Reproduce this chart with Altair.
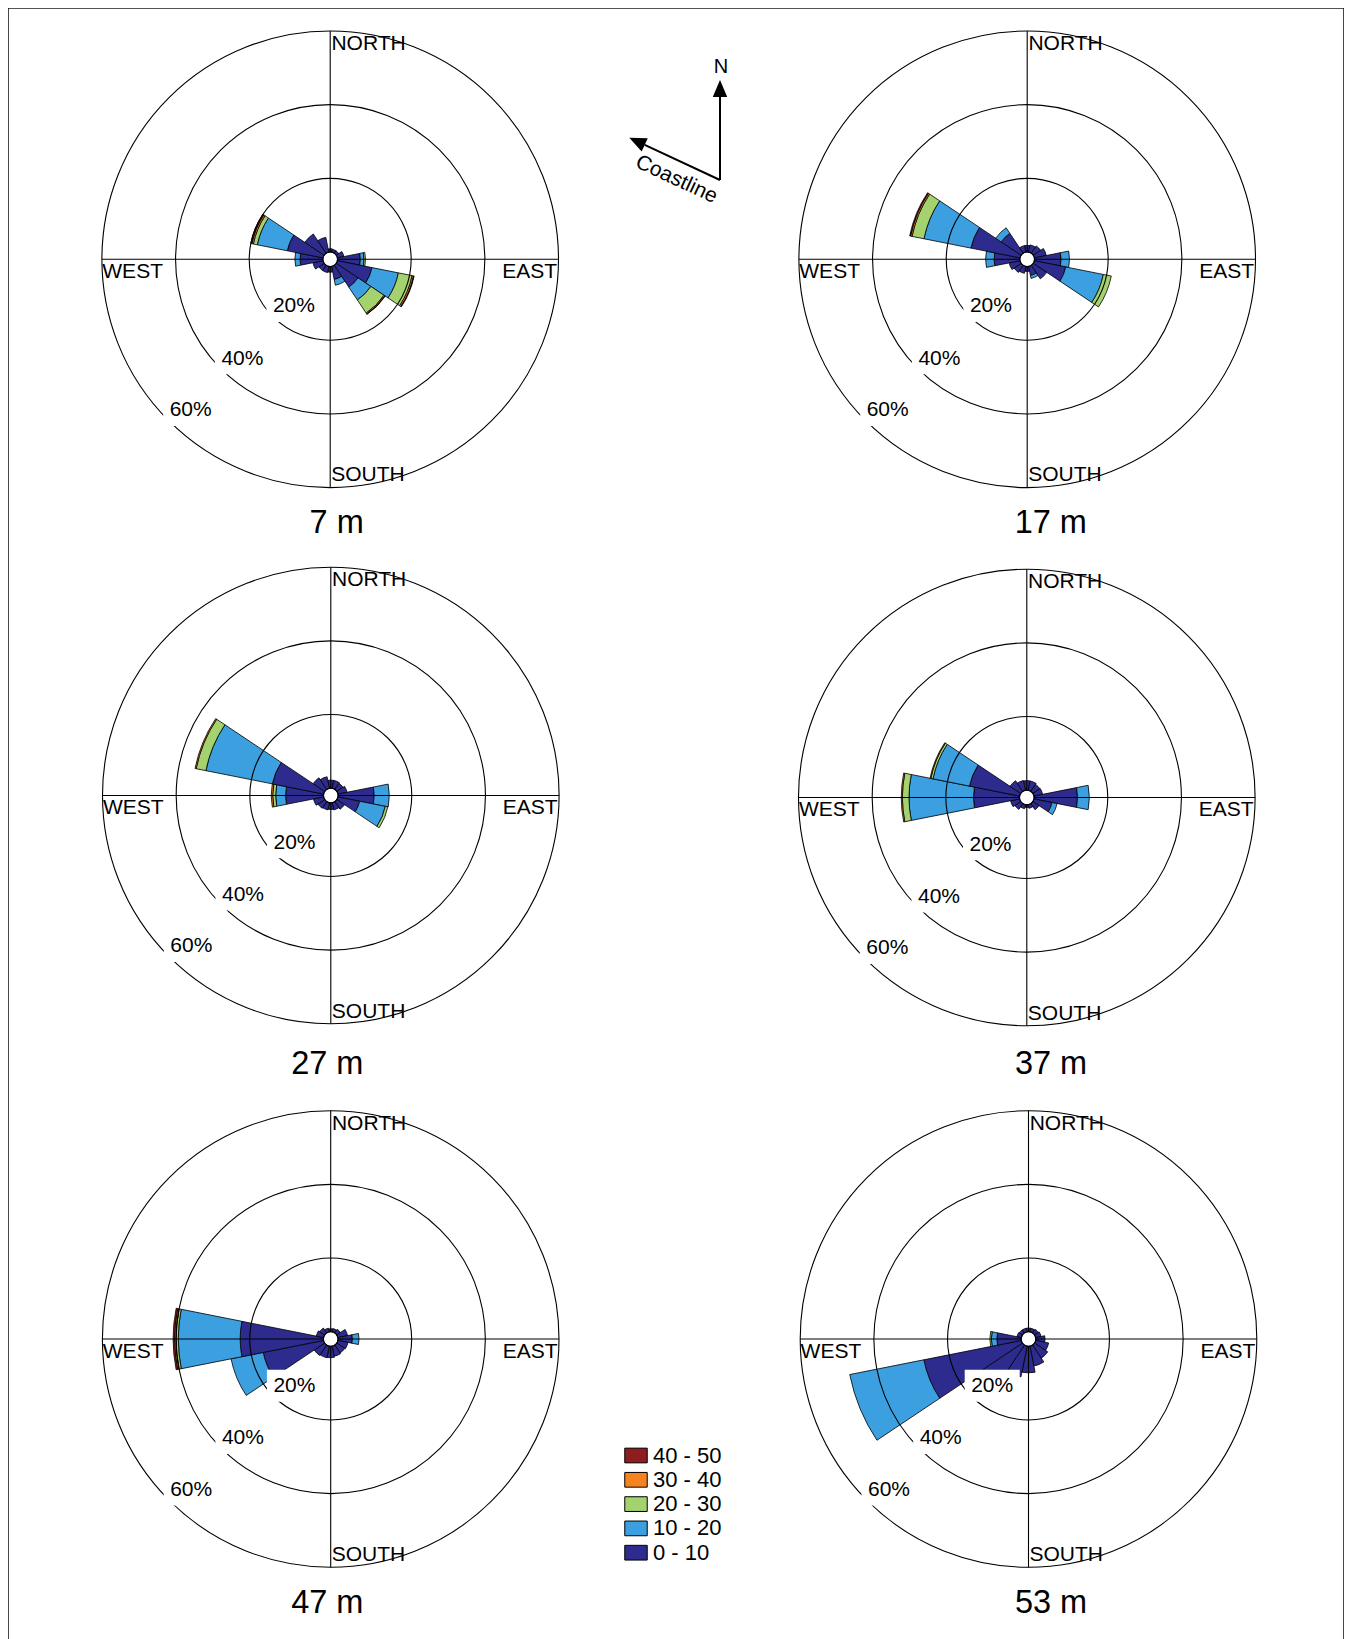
import math
import altair as alt
import pandas as pd

# ---------------------------------------------------------------- data
DIRECTIONS = [0.0, 22.5, 45.0, 67.5, 90.0, 112.5, 135.0, 157.5,
              180.0, 202.5, 225.0, 247.5, 270.0, 292.5, 315.0, 337.5]
SPEED_CLASSES = ["0 - 10", "10 - 20", "20 - 30", "30 - 40", "40 - 50"]
DEPTHS = ["7 m", "17 m", "27 m", "37 m", "47 m", "53 m"]
RING_VALUES = [0, 20, 40, 60]
RING_LABELS = ["20%", "40%", "60%"]
SPOKE_ANGLES = [0, 90, 180, 270]

# percent of time, per direction bin (N, NNE, ... NNW), per speed class
D7_S0 = [0.9, 0.8, 0.8, 1.8, 6.2, 9.6, 7.1, 3.6, 1.5, 1.7, 1.7, 2.8, 6.2, 9.9, 6.3, 4.1]
D7_S1 = [0, 0, 0, 0, 1.0, 7.3, 4.2, 1.6, 0, 0, 0, 0, 1.4, 8.3, 0, 0]
D7_S2 = [0, 0, 0, 0, 0.4, 3.8, 4.3, 0, 0, 0, 0, 0, 0, 1.1, 0, 0]
D7_S3 = [0, 0, 0, 0, 0, 0.4, 0.3, 0, 0, 0, 0, 0, 0, 0.4, 0, 0]
D7_S4 = [0, 0, 0, 0, 0, 0.15, 0.1, 0, 0, 0, 0, 0, 0, 0.3, 0, 0]

D17_S0 = [1.8, 2.0, 2.4, 3.3, 7.2, 8.7, 4.4, 2.5, 1.3, 1.9, 2.3, 3.0, 7.0, 13.6, 6.5, 1.8]
D17_S1 = [0, 0, 0, 0, 2.3, 10.4, 0, 0.8, 0, 0, 0, 0, 2.3, 13.0, 1.8, 0]
D17_S2 = [0, 0, 0, 0, 0, 2.2, 0, 0, 0, 0, 0, 0, 0, 3.3, 0, 0]
D17_S3 = [0, 0, 0, 0, 0, 0, 0, 0, 0, 0, 0, 0, 0, 0.4, 0, 0]
D17_S4 = [0, 0, 0, 0, 0, 0, 0, 0, 0, 0, 0, 0, 0, 0.25, 0, 0]

D27_S0 = [2.2, 2.2, 2.0, 2.5, 9.8, 6.0, 2.5, 2.0, 1.8, 2.0, 2.2, 2.8, 10.3, 14.2, 3.8, 3.2]
D27_S1 = [0, 0, 0, 0, 4.1, 7.1, 0, 0, 0, 0, 0, 0, 2.7, 18.4, 0, 0]
D27_S2 = [0, 0, 0, 0, 0, 0.7, 0, 0, 0, 0, 0, 0, 0.8, 2.7, 0, 0]
D27_S3 = [0, 0, 0, 0, 0, 0, 0, 0, 0, 0, 0, 0, 0.4, 0.3, 0, 0]
D27_S4 = [0, 0, 0, 0, 0, 0, 0, 0, 0, 0, 0, 0, 0, 0, 0, 0]

D37_S0 = [2.6, 2.6, 2.3, 2.4, 11.8, 5.0, 2.0, 1.0, 0.7, 1.1, 1.9, 2.5, 12.5, 13.9, 3.5, 2.7]
D37_S1 = [0, 0, 0, 0, 3.2, 1.4, 0, 0, 0, 0, 0, 0, 17.5, 10.1, 0, 0]
D37_S2 = [0, 0, 0, 0, 0, 0, 0, 0, 0, 0, 0, 0, 1.8, 0.6, 0, 0]
D37_S3 = [0, 0, 0, 0, 0, 0, 0, 0, 0, 0, 0, 0, 0.3, 0.2, 0, 0]
D37_S4 = [0, 0, 0, 0, 0, 0, 0, 0, 0, 0, 0, 0, 0, 0, 0, 0]

D47_S0 = [0.8, 0.9, 1.2, 2.7, 3.9, 2.8, 2.6, 2.8, 3.1, 3.2, 3.4, 16.7, 22.6, 2.0, 1.6, 1.0]
D47_S1 = [0, 0, 0, 0, 1.8, 0, 0, 0, 0, 0, 0, 8.9, 16.8, 0, 0, 0]
D47_S2 = [0, 0, 0, 0, 0, 0, 0, 0, 0, 0, 0, 0, 0.6, 0, 0, 0]
D47_S3 = [0, 0, 0, 0, 0, 0, 0, 0, 0, 0, 0, 0, 0.4, 0, 0, 0]
D47_S4 = [0, 0, 0, 0, 0, 0, 0, 0, 0, 0, 0, 0, 0.4, 0, 0, 0]

D53_S0 = [1.0, 1.0, 1.2, 1.5, 2.5, 3.6, 4.3, 5.5, 7.2, 8.5, 14.0, 27.0, 6.6, 1.2, 1.0, 1.0]
D53_S1 = [0, 0, 0, 0, 0, 0, 0, 0, 0, 0, 0, 20.5, 1.5, 0, 0, 0]
D53_S2 = [0, 0, 0, 0, 0, 0, 0, 0, 0, 0, 0, 0, 0.4, 0, 0, 0]
D53_S3 = [0, 0, 0, 0, 0, 0, 0, 0, 0, 0, 0, 0, 0, 0, 0, 0]
D53_S4 = [0, 0, 0, 0, 0, 0, 0, 0, 0, 0, 0, 0, 0, 0, 0, 0]

DEPTH_TABLES = [
    [D7_S0, D7_S1, D7_S2, D7_S3, D7_S4],
    [D17_S0, D17_S1, D17_S2, D17_S3, D17_S4],
    [D27_S0, D27_S1, D27_S2, D27_S3, D27_S4],
    [D37_S0, D37_S1, D37_S2, D37_S3, D37_S4],
    [D47_S0, D47_S1, D47_S2, D47_S3, D47_S4],
    [D53_S0, D53_S1, D53_S2, D53_S3, D53_S4],
]

LEGEND_ORDER = ["40 - 50", "30 - 40", "20 - 30", "10 - 20", "0 - 10"]
LEGEND_COLORS = ["#8e1d22", "#f58420", "#a3d26e", "#3c9fdf", "#2d2b8e"]

# ---------------------------------------------------------------- layout (page px)
MARGIN = 8
VIEW_W, VIEW_H = 1336, 1648
R_HOLE, R_OUT = 7.3, 228.3
BIN_HALF = 11.25

PANEL_CX = [330.2, 1027.2, 330.8, 1026.8, 330.7, 1028.5]
PANEL_CY = [259.3, 259.3, 795.5, 797.5, 1339.0, 1339.0]
TITLE_X = [336.7, 1050.8, 327.3, 1051.0, 327.3, 1051.0]
TITLE_Y = [522.7, 522.7, 1064.2, 1064.2, 1602.5, 1602.5]

RING_LABEL_DX = [-36.3, -87.8, -139.5]
RING_LABEL_DY = [46.8, 98.9, 150.6]
RING_TEXT_SHIFT = 0.3
BOX_HALF_W, BOX_HALF_H = 27.5, 16.0

COMPASS_LEFT = [("NORTH", 1.2, -215.5), ("SOUTH", 1.0, 216.0), ("WEST", -227.9, 12.5)]
COMPASS_RIGHT = [("EAST", 226.9, 12.5)]

FONT = "Liberation Sans"
LABEL_SIZE = 21
TITLE_SIZE = 32.5

# ---------------------------------------------------------------- tables
def vx(v):
    return v - MARGIN


petal_rows = []
for di, depth in enumerate(DEPTHS):
    tables = DEPTH_TABLES[di]
    for k, ang in enumerate(DIRECTIONS):
        cum = 0.0
        for ci, cls in enumerate(SPEED_CLASSES):
            v = tables[ci][k]
            if v <= 0:
                continue
            petal_rows.append(dict(depth=depth, cx=vx(PANEL_CX[di]), cy=vx(PANEL_CY[di]),
                                   t0=ang - BIN_HALF, t1=ang + BIN_HALF,
                                   r0=cum, r1=cum + v, speed=cls))
            cum += v
petal_df = pd.DataFrame(petal_rows)

grid_rows = []
for di in range(len(DEPTHS)):
    for rv in RING_VALUES:
        grid_rows.append(dict(cx=vx(PANEL_CX[di]), cy=vx(PANEL_CY[di]), t0=0, t1=360, r0=rv, r1=rv))
    for a in SPOKE_ANGLES:
        grid_rows.append(dict(cx=vx(PANEL_CX[di]), cy=vx(PANEL_CY[di]), t0=a, t1=a, r0=0, r1=60))
grid_df = pd.DataFrame(grid_rows)

label_rows, box_rows = [], []
for di in range(len(DEPTHS)):
    cx, cy = vx(PANEL_CX[di]), vx(PANEL_CY[di])
    for j, lab in enumerate(RING_LABELS):
        lx, ly = cx + RING_LABEL_DX[j], cy + RING_LABEL_DY[j]
        label_rows.append(dict(x=lx, y=ly + RING_TEXT_SHIFT, text=lab))
        box_rows.append(dict(x=lx - BOX_HALF_W, x2=lx + BOX_HALF_W, y=ly - BOX_HALF_H, y2=ly + BOX_HALF_H))
label_df = pd.DataFrame(label_rows)
box_df = pd.DataFrame(box_rows)

cl_rows, cr_rows = [], []
for di in range(len(DEPTHS)):
    cx, cy = vx(PANEL_CX[di]), vx(PANEL_CY[di])
    for t, dx, dy in COMPASS_LEFT:
        cl_rows.append(dict(x=cx + dx, y=cy + dy, text=t))
    for t, dx, dy in COMPASS_RIGHT:
        cr_rows.append(dict(x=cx + dx, y=cy + dy, text=t))
cl_df = pd.DataFrame(cl_rows)
cr_df = pd.DataFrame(cr_rows)

title_df = pd.DataFrame(dict(x=[vx(v) for v in TITLE_X], y=[vx(v) for v in TITLE_Y], text=DEPTHS))

shaft_df = pd.DataFrame(dict(x=[vx(720), vx(720)], y=[vx(180), vx(180)],
                             x2=[vx(720), vx(644.7)], y2=[vx(97), vx(144.9)]))
head_n_df = pd.DataFrame(dict(x=[vx(720)], y=[vx(88.5)]))
head_c_df = pd.DataFrame(dict(x=[vx(637.0)], y=[vx(141.3)]))
n_text_df = pd.DataFrame(dict(x=[vx(721.0)], y=[vx(67.0)], text=["N"]))
coast_df = pd.DataFrame(dict(x=[vx(676.5)], y=[vx(179.5)], text=["Coastline"]))

# ---------------------------------------------------------------- scales
XS = alt.Scale(domain=[0, VIEW_W], range=[0, VIEW_W], nice=False, zero=False)
YS = alt.Scale(domain=[0, VIEW_H], range=[0, VIEW_H], nice=False, zero=False)
TS = alt.Scale(type="linear", domain=[0, 360], range=[0, 2 * math.pi], zero=False)
RS = alt.Scale(type="linear", domain=[0, 60], range=[R_HOLE, R_OUT], zero=False)


def xy(xf="x", yf="y"):
    return dict(x=alt.X(f"{xf}:Q", scale=XS, axis=None), y=alt.Y(f"{yf}:Q", scale=YS, axis=None))


petals = alt.Chart(petal_df).mark_arc(stroke="black", strokeWidth=0.8, opacity=1).encode(
    **xy("cx", "cy"),
    theta=alt.Theta("t0:Q", scale=TS, stack=False),
    theta2="t1:Q",
    radius=alt.Radius("r1:Q", scale=RS, stack=False),
    radius2="r0:Q",
    color=alt.Color("speed:N",
                    scale=alt.Scale(domain=LEGEND_ORDER, range=LEGEND_COLORS),
                    legend=alt.Legend(title=None, orient="none", legendX=617, legendY=1436.5,
                                      direction="vertical",
                                      symbolType="M-1.45,-0.95H1.45V0.95H-1.45Z",
                                      symbolSize=240, symbolStrokeColor="black",
                                      symbolStrokeWidth=1, symbolOpacity=1,
                                      labelFont=FONT, labelFontSize=22, labelColor="black",
                                      labelOffset=6, rowPadding=2.3, padding=0, offset=0)),
)

grid = alt.Chart(grid_df).mark_arc(filled=False, stroke="black", strokeWidth=1.1).encode(
    **xy("cx", "cy"),
    theta=alt.Theta("t0:Q", scale=TS, stack=False),
    theta2="t1:Q",
    radius=alt.Radius("r1:Q", scale=RS, stack=False),
    radius2="r0:Q",
)

boxes = alt.Chart(box_df).mark_rect(fill="white", strokeWidth=0).encode(
    x=alt.X("x:Q", scale=XS, axis=None), x2="x2:Q",
    y=alt.Y("y:Q", scale=YS, axis=None), y2="y2:Q",
)

ring_labels = alt.Chart(label_df).mark_text(font=FONT, fontSize=LABEL_SIZE, color="black",
                                            align="center", baseline="middle").encode(
    **xy(), text="text:N")

compass_l = alt.Chart(cl_df).mark_text(font=FONT, fontSize=LABEL_SIZE, color="black",
                                       align="left", baseline="middle").encode(**xy(), text="text:N")
compass_r = alt.Chart(cr_df).mark_text(font=FONT, fontSize=LABEL_SIZE, color="black",
                                       align="right", baseline="middle").encode(**xy(), text="text:N")

titles = alt.Chart(title_df).mark_text(font=FONT, fontSize=TITLE_SIZE, color="black",
                                       align="center", baseline="middle").encode(**xy(), text="text:N")

shafts = alt.Chart(shaft_df).mark_rule(color="black", strokeWidth=2).encode(
    x=alt.X("x:Q", scale=XS, axis=None), x2="x2:Q",
    y=alt.Y("y:Q", scale=YS, axis=None), y2="y2:Q",
)
ARROW_PATH = "M0,-1L0.85,1L-0.85,1Z"
head_n = alt.Chart(head_n_df).mark_point(shape=ARROW_PATH, size=289, filled=True, color="black",
                                          opacity=1, angle=0).encode(**xy())
head_c = alt.Chart(head_c_df).mark_point(shape=ARROW_PATH, size=289, filled=True, color="black",
                                          opacity=1, angle=295).encode(**xy())
n_text = alt.Chart(n_text_df).mark_text(font=FONT, fontSize=20, color="black",
                                        align="center", baseline="middle").encode(**xy(), text="text:N")
coast_text = alt.Chart(coast_df).mark_text(font=FONT, fontSize=21, color="black", angle=25,
                                           align="center", baseline="middle").encode(**xy(), text="text:N")

chart = alt.layer(
    petals, grid, boxes, ring_labels, compass_l, compass_r, titles,
    shafts, head_n, head_c, n_text, coast_text,
).properties(
    width=VIEW_W, height=VIEW_H, padding=0, background="white",
).configure_view(stroke="#1a1a1a", strokeWidth=1.6)

chart.save("out.html", embed_options={"renderer": "svg", "actions": False})
